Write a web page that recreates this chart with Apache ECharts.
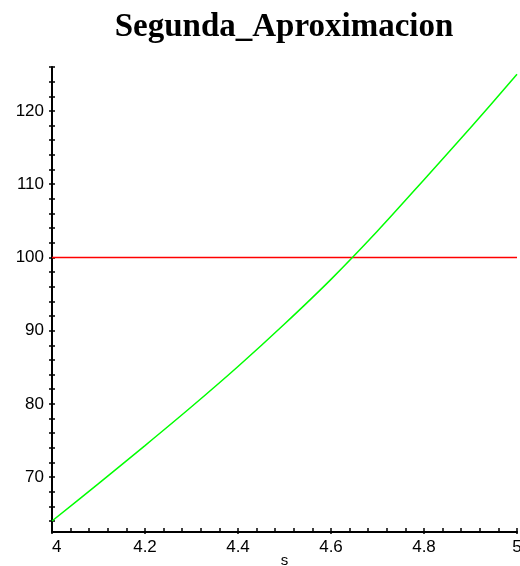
<!DOCTYPE html>
<html>
<head>
<meta charset="utf-8">
<script src="https://cdn.jsdelivr.net/npm/echarts@6/dist/echarts.min.js"></script>
<style>
  html, body { margin: 0; padding: 0; background: #fff; }
  #chart { width: 520px; height: 566px; }
</style>
</head>
<body>
<div id="chart"></div>
<script>
// datos
var sValues = [4.0, 4.1, 4.2, 4.3, 4.4, 4.5, 4.6, 4.7, 4.8, 4.9, 5.0];
var curveValues = [64.0, 69.1, 74.3, 79.6, 85.1, 90.9, 97.0, 103.6, 110.6, 117.7, 125.0];
var levelValue = 100;
var xMajorTicks = [4, 4.2, 4.4, 4.6, 4.8, 5];
var xMinorTicks = [4, 4.04, 4.08, 4.12, 4.16, 4.2, 4.24, 4.28, 4.32, 4.36, 4.4, 4.44, 4.48,
    4.52, 4.56, 4.6, 4.64, 4.68, 4.72, 4.76, 4.8, 4.84, 4.88, 4.92, 4.96, 5];
var yMajorTicks = [70, 80, 90, 100, 110, 120];
var yMinorTicks = [64, 66, 68, 70, 72, 74, 76, 78, 80, 82, 84, 86, 88, 90, 92, 94, 96, 98,
    100, 102, 104, 106, 108, 110, 112, 114, 116, 118, 120, 122, 124, 126];

var myChart = echarts.init(document.getElementById('chart'));

var curveData = [];
for (var i = 0; i < sValues.length; i++) {
    curveData.push([sValues[i], curveValues[i]]);
}

var option = {
    animation: false,
    backgroundColor: '#fff',
    graphic: [{
        type: 'text',
        x: 284,
        y: 11,
        style: {
            text: 'Segunda_Aproximacion',
            font: 'bold 33px "Liberation Serif", "DejaVu Serif", serif',
            fill: '#000',
            textAlign: 'center'
        }
    }],
    grid: {
        left: 52,
        right: 3,
        top: 67,
        bottom: 34,
        containLabel: false,
        outerBoundsMode: 'none'
    },
    xAxis: [{
        type: 'value',
        min: 4,
        max: 5,
        name: 's',
        nameLocation: 'middle',
        nameGap: 21,
        nameMoveOverlap: false,
        nameTextStyle: { color: '#000', fontSize: 15, fontFamily: 'Liberation Sans' },
        splitLine: { show: false },
        axisLine: { onZero: false, lineStyle: { color: '#000', width: 2 } },
        axisTick: { inside: true, length: 4, customValues: xMinorTicks, lineStyle: { color: '#000', width: 1.5 } },
        axisLabel: {
            customValues: xMajorTicks,
            margin: 7,
            color: '#000',
            fontSize: 17,
            fontFamily: 'Liberation Sans',
            alignMinLabel: 'left'
        }
    }, {
        type: 'value',
        min: 4,
        max: 5,
        position: 'bottom',
        splitLine: { show: false },
        axisLine: { show: false },
        axisTick: { inside: false, length: 2, customValues: xMajorTicks, lineStyle: { color: '#000', width: 1.5 } },
        axisLabel: { show: false }
    }],
    yAxis: [{
        type: 'value',
        min: 62.5,
        max: 126,
        splitLine: { show: false },
        axisLine: { show: true, onZero: false, lineStyle: { color: '#000', width: 2 } },
        axisTick: { inside: false, length: 3, customValues: yMinorTicks, lineStyle: { color: '#000', width: 1.5 } },
        axisLabel: {
            customValues: yMajorTicks,
            margin: 8,
            color: '#000',
            fontSize: 17,
            fontFamily: 'Liberation Sans'
        }
    }, {
        type: 'value',
        min: 62.5,
        max: 126,
        position: 'left',
        splitLine: { show: false },
        axisLine: { show: false },
        axisTick: { inside: true, length: 3, customValues: yMinorTicks, lineStyle: { color: '#000', width: 1.5 } },
        axisLabel: { show: false }
    }],
    series: [{
        name: 'nivel',
        type: 'line',
        xAxisIndex: 0,
        yAxisIndex: 0,
        symbol: 'none',
        lineStyle: { color: '#ff0000', width: 1.5 },
        data: [[sValues[0], levelValue], [sValues[sValues.length - 1], levelValue]]
    }, {
        name: 'Segunda_Aproximacion',
        type: 'line',
        xAxisIndex: 0,
        yAxisIndex: 0,
        symbol: 'none',
        smooth: 0.3,
        lineStyle: { color: '#00ff00', width: 1.5 },
        data: curveData
    }]
};
myChart.setOption(option);
</script>
</body>
</html>
